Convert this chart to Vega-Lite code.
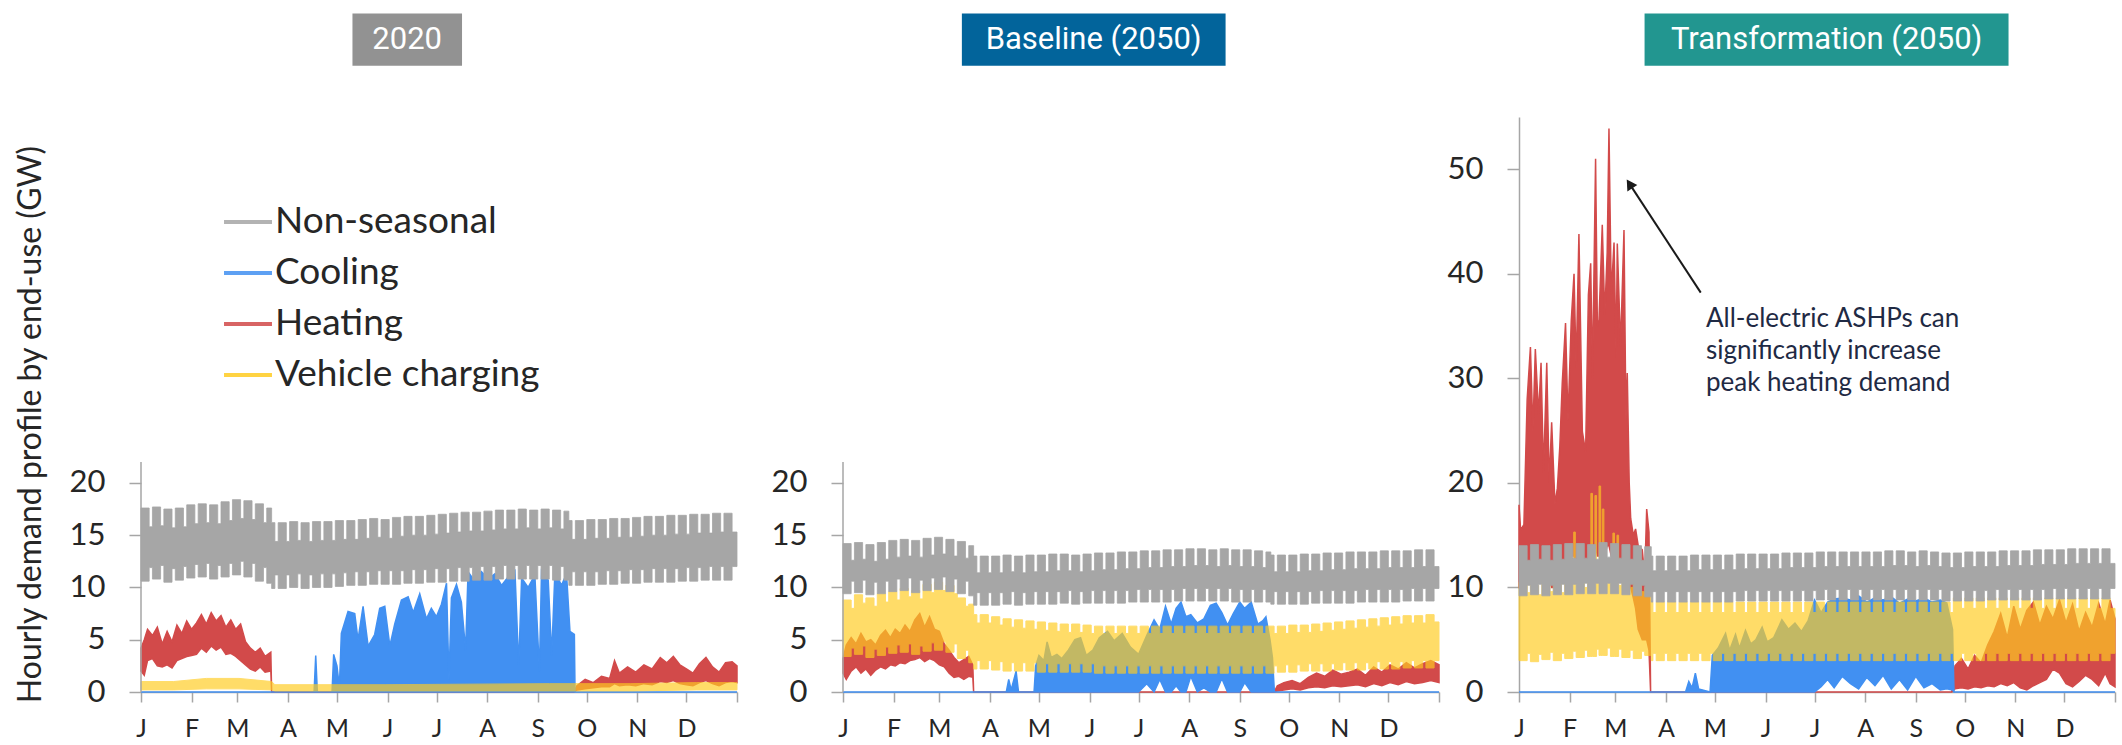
{
"$schema": "https://vega.github.io/schema/vega-lite/v6.json",
"background": "white",
"padding": {"left": 14, "top": 13, "right": 0, "bottom": 0},
"autosize": {"type": "pad"},
"spacing": 5,
"config": {
  "view": {"stroke": null},
  "font": "Lato",
  "axis": {"grid": false, "domainColor": "#A6A6A6", "tickColor": "#A6A6A6", "domainWidth": 1.5, "tickWidth": 1.5, "labelColor": "#262626", "titleColor": "#262626", "labelFont": "Lato", "titleFont": "Lato", "titleFontWeight": "normal"},
  "axisX": {"labelFontSize": 25, "tickSize": 10, "labelPadding": 14, "labelFlush": false, "labelOverlap": false},
  "axisY": {"labelFontSize": 31, "tickSize": 12, "labelPadding": 24, "titleFontSize": 32},
  "legend": {"symbolType": "stroke", "symbolSize": 2300, "symbolStrokeWidth": 4, "symbolOpacity": 0.85, "labelFontSize": 37, "labelFont": "Lato", "labelColor": "#262626", "labelLimit": 600, "rowPadding": 7, "labelOffset": 1, "padding": 0}
},
"datasets": {
"g1": [{"d":0,"l":10.6,"h":17.6},{"d":5,"l":11.9,"h":15.8},{"d":7,"l":10.8,"h":17.7},{"d":12,"l":12.1,"h":15.9},{"d":14,"l":10.5,"h":17.5},{"d":19,"l":11.8,"h":15.7},{"d":21,"l":10.7,"h":17.6},{"d":26,"l":12.0,"h":15.8},{"d":28,"l":10.9,"h":17.9},{"d":33,"l":12.2,"h":16.1},{"d":35,"l":11.0,"h":18.0},{"d":40,"l":12.3,"h":16.2},{"d":42,"l":10.8,"h":17.9},{"d":47,"l":12.1,"h":16.1},{"d":49,"l":11.0,"h":18.2},{"d":54,"l":12.3,"h":16.4},{"d":56,"l":11.2,"h":18.4},{"d":61,"l":12.5,"h":16.6},{"d":63,"l":11.0,"h":18.3},{"d":68,"l":12.3,"h":16.5},{"d":70,"l":10.6,"h":18.0},{"d":75,"l":11.9,"h":16.2},{"d":77,"l":10.4,"h":17.6},{"d":80,"l":9.9,"h":16.2},{"d":82,"l":11.2,"h":14.4},{"d":84,"l":9.9,"h":16.2},{"d":89,"l":11.2,"h":14.4},{"d":91,"l":10.0,"h":16.3},{"d":96,"l":11.3,"h":14.5},{"d":98,"l":9.9,"h":16.2},{"d":103,"l":11.2,"h":14.4},{"d":105,"l":10.0,"h":16.3},{"d":110,"l":11.3,"h":14.5},{"d":112,"l":10.0,"h":16.3},{"d":117,"l":11.3,"h":14.5},{"d":119,"l":10.1,"h":16.4},{"d":124,"l":11.4,"h":14.6},{"d":126,"l":10.2,"h":16.4},{"d":131,"l":11.5,"h":14.6},{"d":133,"l":10.2,"h":16.5},{"d":138,"l":11.5,"h":14.7},{"d":140,"l":10.3,"h":16.6},{"d":145,"l":11.6,"h":14.8},{"d":147,"l":10.3,"h":16.5},{"d":152,"l":11.6,"h":14.7},{"d":154,"l":10.3,"h":16.7},{"d":159,"l":11.6,"h":14.9},{"d":161,"l":10.4,"h":16.8},{"d":166,"l":11.7,"h":15.0},{"d":168,"l":10.4,"h":16.8},{"d":173,"l":11.7,"h":15.0},{"d":175,"l":10.5,"h":16.9},{"d":180,"l":11.8,"h":15.1},{"d":182,"l":10.5,"h":17.0},{"d":187,"l":11.8,"h":15.2},{"d":189,"l":10.6,"h":17.1},{"d":194,"l":11.9,"h":15.3},{"d":196,"l":10.6,"h":17.2},{"d":201,"l":11.9,"h":15.4},{"d":203,"l":10.7,"h":17.2},{"d":208,"l":12.0,"h":15.4},{"d":210,"l":10.7,"h":17.3},{"d":215,"l":12.0,"h":15.5},{"d":217,"l":10.8,"h":17.4},{"d":222,"l":12.1,"h":15.6},{"d":224,"l":10.8,"h":17.4},{"d":229,"l":12.1,"h":15.6},{"d":231,"l":10.8,"h":17.5},{"d":236,"l":12.1,"h":15.7},{"d":238,"l":10.8,"h":17.4},{"d":243,"l":12.1,"h":15.6},{"d":245,"l":10.8,"h":17.5},{"d":250,"l":12.1,"h":15.7},{"d":252,"l":10.7,"h":17.4},{"d":257,"l":12.0,"h":15.6},{"d":259,"l":10.7,"h":17.3},{"d":262,"l":10.2,"h":16.4},{"d":264,"l":11.5,"h":14.6},{"d":266,"l":10.2,"h":16.4},{"d":271,"l":11.5,"h":14.6},{"d":273,"l":10.2,"h":16.5},{"d":278,"l":11.5,"h":14.7},{"d":280,"l":10.3,"h":16.5},{"d":285,"l":11.6,"h":14.7},{"d":287,"l":10.3,"h":16.6},{"d":292,"l":11.6,"h":14.8},{"d":294,"l":10.4,"h":16.6},{"d":299,"l":11.7,"h":14.8},{"d":301,"l":10.4,"h":16.7},{"d":306,"l":11.7,"h":14.9},{"d":308,"l":10.5,"h":16.8},{"d":313,"l":11.8,"h":15.0},{"d":315,"l":10.5,"h":16.8},{"d":320,"l":11.8,"h":15.0},{"d":322,"l":10.5,"h":16.9},{"d":327,"l":11.8,"h":15.1},{"d":329,"l":10.6,"h":16.9},{"d":334,"l":11.9,"h":15.1},{"d":336,"l":10.6,"h":17.0},{"d":341,"l":11.9,"h":15.2},{"d":343,"l":10.7,"h":17.0},{"d":348,"l":12.0,"h":15.2},{"d":350,"l":10.7,"h":17.1},{"d":355,"l":12.0,"h":15.3},{"d":357,"l":10.7,"h":17.1},{"d":362,"l":12.0,"h":15.3},{"d":365,"l":12.0,"h":15.3}],
"g2": [{"d":0,"l":9.4,"h":14.2},{"d":5,"l":10.6,"h":12.6},{"d":7,"l":9.5,"h":14.3},{"d":12,"l":10.7,"h":12.7},{"d":14,"l":9.3,"h":14.1},{"d":19,"l":10.5,"h":12.5},{"d":21,"l":9.4,"h":14.3},{"d":26,"l":10.6,"h":12.7},{"d":28,"l":9.6,"h":14.5},{"d":33,"l":10.8,"h":12.9},{"d":35,"l":9.7,"h":14.6},{"d":40,"l":10.9,"h":13.0},{"d":42,"l":9.5,"h":14.5},{"d":47,"l":10.7,"h":12.9},{"d":49,"l":9.7,"h":14.7},{"d":54,"l":10.9,"h":13.1},{"d":56,"l":9.8,"h":14.8},{"d":61,"l":11.0,"h":13.2},{"d":63,"l":9.6,"h":14.6},{"d":68,"l":10.8,"h":13.0},{"d":70,"l":9.4,"h":14.4},{"d":75,"l":10.6,"h":12.8},{"d":77,"l":9.2,"h":14.0},{"d":80,"l":8.3,"h":13.0},{"d":82,"l":9.5,"h":11.4},{"d":84,"l":8.3,"h":13.0},{"d":89,"l":9.5,"h":11.4},{"d":91,"l":8.3,"h":13.0},{"d":96,"l":9.5,"h":11.4},{"d":98,"l":8.4,"h":13.1},{"d":103,"l":9.6,"h":11.5},{"d":105,"l":8.3,"h":13.0},{"d":110,"l":9.5,"h":11.4},{"d":112,"l":8.4,"h":13.1},{"d":117,"l":9.6,"h":11.5},{"d":119,"l":8.4,"h":13.1},{"d":124,"l":9.6,"h":11.5},{"d":126,"l":8.4,"h":13.2},{"d":131,"l":9.6,"h":11.6},{"d":133,"l":8.5,"h":13.2},{"d":138,"l":9.7,"h":11.6},{"d":140,"l":8.4,"h":13.1},{"d":145,"l":9.6,"h":11.5},{"d":147,"l":8.5,"h":13.2},{"d":152,"l":9.7,"h":11.6},{"d":154,"l":8.5,"h":13.3},{"d":159,"l":9.7,"h":11.7},{"d":161,"l":8.5,"h":13.3},{"d":166,"l":9.7,"h":11.7},{"d":168,"l":8.5,"h":13.4},{"d":173,"l":9.7,"h":11.8},{"d":175,"l":8.6,"h":13.4},{"d":180,"l":9.8,"h":11.8},{"d":182,"l":8.6,"h":13.5},{"d":187,"l":9.8,"h":11.9},{"d":189,"l":8.6,"h":13.5},{"d":194,"l":9.8,"h":11.9},{"d":196,"l":8.6,"h":13.6},{"d":201,"l":9.8,"h":12.0},{"d":203,"l":8.7,"h":13.6},{"d":208,"l":9.9,"h":12.0},{"d":210,"l":8.7,"h":13.7},{"d":215,"l":9.9,"h":12.1},{"d":217,"l":8.7,"h":13.7},{"d":222,"l":9.9,"h":12.1},{"d":224,"l":8.7,"h":13.6},{"d":229,"l":9.9,"h":12.0},{"d":231,"l":8.7,"h":13.7},{"d":236,"l":9.9,"h":12.1},{"d":238,"l":8.6,"h":13.6},{"d":243,"l":9.8,"h":12.0},{"d":245,"l":8.6,"h":13.6},{"d":250,"l":9.8,"h":12.0},{"d":252,"l":8.6,"h":13.5},{"d":257,"l":9.8,"h":11.9},{"d":259,"l":8.6,"h":13.4},{"d":262,"l":8.4,"h":13.1},{"d":264,"l":9.6,"h":11.5},{"d":266,"l":8.4,"h":13.1},{"d":271,"l":9.6,"h":11.5},{"d":273,"l":8.4,"h":13.1},{"d":278,"l":9.6,"h":11.5},{"d":280,"l":8.4,"h":13.2},{"d":285,"l":9.6,"h":11.6},{"d":287,"l":8.5,"h":13.2},{"d":292,"l":9.7,"h":11.6},{"d":294,"l":8.5,"h":13.3},{"d":299,"l":9.7,"h":11.7},{"d":301,"l":8.5,"h":13.3},{"d":306,"l":9.7,"h":11.7},{"d":308,"l":8.5,"h":13.4},{"d":313,"l":9.7,"h":11.8},{"d":315,"l":8.6,"h":13.4},{"d":320,"l":9.8,"h":11.8},{"d":322,"l":8.6,"h":13.4},{"d":327,"l":9.8,"h":11.8},{"d":329,"l":8.6,"h":13.5},{"d":334,"l":9.8,"h":11.9},{"d":336,"l":8.6,"h":13.5},{"d":341,"l":9.8,"h":11.9},{"d":343,"l":8.7,"h":13.5},{"d":348,"l":9.9,"h":11.9},{"d":350,"l":8.7,"h":13.6},{"d":355,"l":9.9,"h":12.0},{"d":357,"l":8.7,"h":13.6},{"d":362,"l":9.9,"h":12.0},{"d":365,"l":9.9,"h":12.0}],
"g3": [{"d":0,"l":9.2,"h":14.0},{"d":5,"l":10.2,"h":12.6},{"d":7,"l":9.3,"h":14.1},{"d":12,"l":10.3,"h":12.7},{"d":14,"l":9.2,"h":14.0},{"d":19,"l":10.2,"h":12.6},{"d":21,"l":9.3,"h":14.1},{"d":26,"l":10.3,"h":12.7},{"d":28,"l":9.3,"h":14.2},{"d":33,"l":10.3,"h":12.8},{"d":35,"l":9.4,"h":14.2},{"d":40,"l":10.4,"h":12.8},{"d":42,"l":9.4,"h":14.1},{"d":47,"l":10.4,"h":12.7},{"d":49,"l":9.4,"h":14.3},{"d":54,"l":10.4,"h":12.9},{"d":56,"l":9.4,"h":14.2},{"d":61,"l":10.4,"h":12.8},{"d":63,"l":9.3,"h":14.1},{"d":68,"l":10.3,"h":12.7},{"d":70,"l":9.2,"h":14.0},{"d":75,"l":10.2,"h":12.6},{"d":77,"l":9.1,"h":13.9},{"d":81,"l":8.6,"h":13.0},{"d":82,"l":9.6,"h":11.6},{"d":84,"l":8.6,"h":13.0},{"d":89,"l":9.6,"h":11.6},{"d":91,"l":8.6,"h":13.0},{"d":96,"l":9.6,"h":11.6},{"d":98,"l":8.6,"h":13.0},{"d":103,"l":9.6,"h":11.6},{"d":105,"l":8.6,"h":13.1},{"d":110,"l":9.6,"h":11.7},{"d":112,"l":8.6,"h":13.1},{"d":117,"l":9.6,"h":11.7},{"d":119,"l":8.6,"h":13.1},{"d":124,"l":9.6,"h":11.7},{"d":126,"l":8.6,"h":13.1},{"d":131,"l":9.6,"h":11.7},{"d":133,"l":8.7,"h":13.2},{"d":138,"l":9.7,"h":11.8},{"d":140,"l":8.7,"h":13.2},{"d":145,"l":9.7,"h":11.8},{"d":147,"l":8.7,"h":13.2},{"d":152,"l":9.7,"h":11.8},{"d":154,"l":8.7,"h":13.2},{"d":159,"l":9.7,"h":11.8},{"d":161,"l":8.7,"h":13.3},{"d":166,"l":9.7,"h":11.9},{"d":168,"l":8.7,"h":13.3},{"d":173,"l":9.7,"h":11.9},{"d":175,"l":8.7,"h":13.3},{"d":180,"l":9.7,"h":11.9},{"d":182,"l":8.8,"h":13.4},{"d":187,"l":9.8,"h":12.0},{"d":189,"l":8.8,"h":13.4},{"d":194,"l":9.8,"h":12.0},{"d":196,"l":8.8,"h":13.4},{"d":201,"l":9.8,"h":12.0},{"d":203,"l":8.8,"h":13.4},{"d":208,"l":9.8,"h":12.0},{"d":210,"l":8.8,"h":13.4},{"d":215,"l":9.8,"h":12.0},{"d":217,"l":8.8,"h":13.4},{"d":222,"l":9.8,"h":12.0},{"d":224,"l":8.8,"h":13.5},{"d":229,"l":9.8,"h":12.1},{"d":231,"l":8.8,"h":13.5},{"d":236,"l":9.8,"h":12.1},{"d":238,"l":8.8,"h":13.4},{"d":243,"l":9.8,"h":12.0},{"d":245,"l":8.8,"h":13.5},{"d":250,"l":9.8,"h":12.1},{"d":252,"l":8.8,"h":13.4},{"d":257,"l":9.8,"h":12.0},{"d":259,"l":8.7,"h":13.3},{"d":264,"l":9.7,"h":11.9},{"d":266,"l":8.7,"h":13.3},{"d":271,"l":9.7,"h":11.9},{"d":273,"l":8.7,"h":13.4},{"d":278,"l":9.7,"h":12.0},{"d":280,"l":8.7,"h":13.4},{"d":285,"l":9.7,"h":12.0},{"d":287,"l":8.8,"h":13.4},{"d":292,"l":9.8,"h":12.0},{"d":294,"l":8.8,"h":13.5},{"d":299,"l":9.8,"h":12.1},{"d":301,"l":8.8,"h":13.5},{"d":306,"l":9.8,"h":12.1},{"d":308,"l":8.8,"h":13.5},{"d":313,"l":9.8,"h":12.1},{"d":315,"l":8.8,"h":13.6},{"d":320,"l":9.8,"h":12.2},{"d":322,"l":8.9,"h":13.6},{"d":327,"l":9.9,"h":12.2},{"d":329,"l":8.9,"h":13.6},{"d":334,"l":9.9,"h":12.2},{"d":336,"l":8.9,"h":13.7},{"d":341,"l":9.9,"h":12.3},{"d":343,"l":8.9,"h":13.7},{"d":348,"l":9.9,"h":12.3},{"d":350,"l":8.9,"h":13.7},{"d":355,"l":9.9,"h":12.3},{"d":357,"l":8.9,"h":13.7},{"d":362,"l":9.9,"h":12.3},{"d":365,"l":9.9,"h":12.3}],
"v1": [{"d":0,"l":0.2,"h":1.0},{"d":20,"l":0.2,"h":1.0},{"d":40,"l":0.3,"h":1.3},{"d":60,"l":0.3,"h":1.3},{"d":80,"l":0.2,"h":1.0},{"d":82,"l":0.1,"h":0.7},{"d":150,"l":0.1,"h":0.7},{"d":250,"l":0.1,"h":0.8},{"d":300,"l":0.1,"h":0.8},{"d":340,"l":0.2,"h":0.9},{"d":365,"l":0.2,"h":0.9}],
"v2": [{"d":0,"l":3.4,"h":8.8},{"d":5,"l":4.2,"h":8.0},{"d":7,"l":3.6,"h":9.3},{"d":12,"l":4.4,"h":8.5},{"d":14,"l":3.3,"h":9.0},{"d":19,"l":4.1,"h":8.2},{"d":21,"l":3.5,"h":9.4},{"d":26,"l":4.3,"h":8.6},{"d":28,"l":3.7,"h":9.6},{"d":33,"l":4.5,"h":8.8},{"d":35,"l":3.8,"h":9.9},{"d":40,"l":4.6,"h":9.1},{"d":42,"l":3.6,"h":9.7},{"d":47,"l":4.4,"h":8.9},{"d":49,"l":3.9,"h":10.3},{"d":54,"l":4.7,"h":9.5},{"d":56,"l":4.0,"h":10.5},{"d":61,"l":4.8,"h":9.7},{"d":63,"l":3.8,"h":10.2},{"d":68,"l":4.6,"h":9.4},{"d":70,"l":3.2,"h":9.0},{"d":75,"l":4.0,"h":8.2},{"d":77,"l":2.8,"h":8.4},{"d":80,"l":2.2,"h":7.4},{"d":82,"l":3.0,"h":6.6},{"d":84,"l":2.2,"h":7.4},{"d":89,"l":3.0,"h":6.6},{"d":91,"l":2.1,"h":7.2},{"d":96,"l":2.9,"h":6.4},{"d":98,"l":2.0,"h":7.0},{"d":103,"l":2.8,"h":6.2},{"d":105,"l":2.0,"h":6.9},{"d":110,"l":2.8,"h":6.1},{"d":112,"l":2.0,"h":6.8},{"d":117,"l":2.8,"h":6.0},{"d":119,"l":1.9,"h":6.7},{"d":124,"l":2.7,"h":5.9},{"d":126,"l":1.9,"h":6.6},{"d":131,"l":2.7,"h":5.8},{"d":133,"l":1.9,"h":6.5},{"d":138,"l":2.7,"h":5.7},{"d":140,"l":1.9,"h":6.5},{"d":145,"l":2.7,"h":5.7},{"d":147,"l":1.9,"h":6.4},{"d":152,"l":2.7,"h":5.6},{"d":154,"l":1.8,"h":6.3},{"d":159,"l":2.5,"h":5.6},{"d":161,"l":1.8,"h":6.3},{"d":166,"l":2.5,"h":5.6},{"d":168,"l":1.8,"h":6.3},{"d":173,"l":2.5,"h":5.6},{"d":175,"l":1.8,"h":6.3},{"d":180,"l":2.5,"h":5.6},{"d":182,"l":1.8,"h":6.3},{"d":187,"l":2.5,"h":5.6},{"d":189,"l":1.8,"h":6.3},{"d":194,"l":2.5,"h":5.6},{"d":196,"l":1.8,"h":6.3},{"d":201,"l":2.5,"h":5.6},{"d":203,"l":1.8,"h":6.3},{"d":208,"l":2.5,"h":5.6},{"d":210,"l":1.8,"h":6.3},{"d":215,"l":2.5,"h":5.6},{"d":217,"l":1.8,"h":6.3},{"d":222,"l":2.5,"h":5.6},{"d":224,"l":1.8,"h":6.3},{"d":229,"l":2.5,"h":5.6},{"d":231,"l":1.8,"h":6.3},{"d":236,"l":2.5,"h":5.6},{"d":238,"l":1.8,"h":6.3},{"d":243,"l":2.5,"h":5.6},{"d":245,"l":1.8,"h":6.3},{"d":250,"l":2.5,"h":5.6},{"d":252,"l":1.8,"h":6.3},{"d":257,"l":2.5,"h":5.6},{"d":259,"l":1.8,"h":6.3},{"d":264,"l":2.5,"h":5.6},{"d":266,"l":1.9,"h":6.3},{"d":271,"l":2.6,"h":5.6},{"d":273,"l":1.9,"h":6.4},{"d":278,"l":2.6,"h":5.7},{"d":280,"l":2.0,"h":6.4},{"d":285,"l":2.7,"h":5.7},{"d":287,"l":2.0,"h":6.5},{"d":292,"l":2.7,"h":5.8},{"d":294,"l":2.0,"h":6.6},{"d":299,"l":2.7,"h":5.9},{"d":301,"l":2.1,"h":6.7},{"d":306,"l":2.8,"h":6.0},{"d":308,"l":2.1,"h":6.8},{"d":313,"l":2.8,"h":6.1},{"d":315,"l":2.1,"h":6.9},{"d":320,"l":2.8,"h":6.2},{"d":322,"l":2.2,"h":7.0},{"d":327,"l":2.9,"h":6.3},{"d":329,"l":2.2,"h":7.1},{"d":334,"l":2.9,"h":6.4},{"d":336,"l":2.2,"h":7.2},{"d":341,"l":2.9,"h":6.5},{"d":343,"l":2.3,"h":7.3},{"d":348,"l":3.0,"h":6.6},{"d":350,"l":2.3,"h":7.3},{"d":355,"l":3.0,"h":6.6},{"d":357,"l":2.3,"h":7.4},{"d":362,"l":3.0,"h":6.7},{"d":365,"l":3.0,"h":6.7}],
"v3": [{"d":0,"l":3.0,"h":10.5},{"d":5,"l":3.7,"h":9.5},{"d":7,"l":2.9,"h":10.2},{"d":12,"l":3.6,"h":9.3},{"d":14,"l":3.1,"h":10.6},{"d":19,"l":3.8,"h":9.6},{"d":21,"l":3.0,"h":10.4},{"d":26,"l":3.7,"h":9.5},{"d":28,"l":3.2,"h":10.8},{"d":33,"l":3.9,"h":9.8},{"d":33.5,"l":3.9,"h":15.3},{"d":34.5,"l":3.9,"h":9.8},{"d":35,"l":3.3,"h":11.0},{"d":40,"l":4.0,"h":10.0},{"d":42,"l":3.4,"h":11.2},{"d":44,"l":3.4,"h":19.0},{"d":45,"l":3.4,"h":12.0},{"d":46.5,"l":3.4,"h":18.8},{"d":47.5,"l":4.1,"h":10.4},{"d":49,"l":3.5,"h":19.7},{"d":50,"l":3.5,"h":13.0},{"d":51,"l":3.5,"h":17.5},{"d":52,"l":3.5,"h":11.6},{"d":54,"l":4.2,"h":10.4},{"d":56,"l":3.4,"h":11.4},{"d":57.5,"l":3.4,"h":15.2},{"d":58.5,"l":3.4,"h":11.4},{"d":60,"l":3.4,"h":15.0},{"d":61,"l":4.1,"h":10.2},{"d":63,"l":3.3,"h":11.0},{"d":68,"l":4.0,"h":10.0},{"d":70,"l":3.2,"h":10.6},{"d":75,"l":3.9,"h":9.6},{"d":77,"l":3.5,"h":10.0},{"d":81,"l":3.0,"h":8.6},{"d":82,"l":3.7,"h":7.6},{"d":84,"l":3.0,"h":8.6},{"d":89,"l":3.7,"h":7.6},{"d":91,"l":3.0,"h":8.6},{"d":96,"l":3.7,"h":7.6},{"d":98,"l":3.0,"h":8.6},{"d":103,"l":3.7,"h":7.6},{"d":105,"l":3.0,"h":8.6},{"d":110,"l":3.7,"h":7.6},{"d":112,"l":3.0,"h":8.6},{"d":117,"l":3.7,"h":7.6},{"d":119,"l":3.0,"h":8.6},{"d":124,"l":3.7,"h":7.6},{"d":126,"l":3.0,"h":8.6},{"d":131,"l":3.7,"h":7.6},{"d":133,"l":3.0,"h":8.6},{"d":138,"l":3.7,"h":7.6},{"d":140,"l":3.0,"h":8.6},{"d":145,"l":3.7,"h":7.6},{"d":147,"l":3.0,"h":8.6},{"d":152,"l":3.7,"h":7.6},{"d":154,"l":3.0,"h":8.6},{"d":159,"l":3.7,"h":7.6},{"d":161,"l":3.0,"h":8.6},{"d":166,"l":3.7,"h":7.6},{"d":168,"l":3.0,"h":8.6},{"d":173,"l":3.7,"h":7.6},{"d":175,"l":3.0,"h":8.6},{"d":180,"l":3.7,"h":7.6},{"d":182,"l":3.0,"h":8.6},{"d":187,"l":3.7,"h":7.6},{"d":189,"l":3.0,"h":8.6},{"d":194,"l":3.7,"h":7.6},{"d":196,"l":3.0,"h":8.6},{"d":201,"l":3.7,"h":7.6},{"d":203,"l":3.0,"h":8.6},{"d":208,"l":3.7,"h":7.6},{"d":210,"l":3.0,"h":8.6},{"d":215,"l":3.7,"h":7.6},{"d":217,"l":3.0,"h":8.6},{"d":222,"l":3.7,"h":7.6},{"d":224,"l":3.0,"h":8.6},{"d":229,"l":3.7,"h":7.6},{"d":231,"l":3.0,"h":8.6},{"d":236,"l":3.7,"h":7.6},{"d":238,"l":3.0,"h":8.6},{"d":243,"l":3.7,"h":7.6},{"d":245,"l":3.0,"h":8.6},{"d":250,"l":3.7,"h":7.6},{"d":252,"l":3.0,"h":8.6},{"d":257,"l":3.7,"h":7.6},{"d":259,"l":3.0,"h":8.6},{"d":264,"l":3.7,"h":7.6},{"d":266,"l":3.0,"h":9.0},{"d":271,"l":3.7,"h":8.0},{"d":273,"l":3.0,"h":9.0},{"d":278,"l":3.7,"h":8.0},{"d":280,"l":3.0,"h":9.0},{"d":285,"l":3.7,"h":8.0},{"d":287,"l":3.0,"h":9.0},{"d":292,"l":3.7,"h":8.0},{"d":294,"l":3.0,"h":9.0},{"d":299,"l":3.7,"h":8.0},{"d":301,"l":3.0,"h":9.0},{"d":306,"l":3.7,"h":8.0},{"d":308,"l":3.0,"h":9.0},{"d":313,"l":3.7,"h":8.0},{"d":315,"l":3.0,"h":9.0},{"d":320,"l":3.7,"h":8.0},{"d":322,"l":3.0,"h":9.0},{"d":327,"l":3.7,"h":8.0},{"d":329,"l":3.0,"h":9.0},{"d":334,"l":3.7,"h":8.0},{"d":336,"l":3.0,"h":9.0},{"d":341,"l":3.7,"h":8.0},{"d":343,"l":3.0,"h":9.0},{"d":348,"l":3.7,"h":8.0},{"d":350,"l":3.0,"h":9.0},{"d":355,"l":3.7,"h":8.0},{"d":357,"l":3.0,"h":9.0},{"d":362,"l":3.7,"h":8.0},{"d":365,"l":3.7,"h":8.0}],
"h1": [{"d":0,"l":2.0,"h":4.2},{"d":2,"l":1.6,"h":5.0},{"d":4,"l":3.0,"h":6.0},{"d":7,"l":3.2,"h":5.4},{"d":10,"l":2.5,"h":6.2},{"d":13,"l":2.4,"h":4.6},{"d":16,"l":2.6,"h":5.8},{"d":19,"l":2.3,"h":4.8},{"d":22,"l":3.0,"h":6.4},{"d":25,"l":3.2,"h":5.6},{"d":28,"l":3.4,"h":6.8},{"d":31,"l":3.5,"h":6.0},{"d":34,"l":3.6,"h":6.6},{"d":37,"l":4.2,"h":7.4},{"d":40,"l":3.8,"h":6.5},{"d":43,"l":4.4,"h":7.6},{"d":46,"l":4.0,"h":6.8},{"d":49,"l":4.3,"h":7.3},{"d":52,"l":3.6,"h":6.2},{"d":55,"l":3.7,"h":6.9},{"d":58,"l":3.4,"h":6.0},{"d":61,"l":3.0,"h":6.5},{"d":64,"l":2.6,"h":4.8},{"d":67,"l":2.2,"h":4.2},{"d":70,"l":2.0,"h":3.8},{"d":73,"l":2.4,"h":4.2},{"d":76,"l":1.9,"h":3.4},{"d":79.5,"l":2.0,"h":3.8},{"d":80,"l":0,"h":0},{"d":265,"l":0,"h":0},{"d":267,"l":0.2,"h":0.6},{"d":272,"l":0.3,"h":1.2},{"d":277,"l":0.4,"h":0.9},{"d":282,"l":0.5,"h":1.5},{"d":287,"l":0.5,"h":1.3},{"d":290,"l":0.8,"h":3.0},{"d":293,"l":0.6,"h":1.8},{"d":298,"l":0.7,"h":2.4},{"d":303,"l":0.6,"h":1.9},{"d":308,"l":0.8,"h":2.6},{"d":313,"l":0.7,"h":2.2},{"d":318,"l":1.0,"h":3.3},{"d":322,"l":0.9,"h":2.8},{"d":326,"l":1.1,"h":3.4},{"d":330,"l":0.8,"h":2.6},{"d":334,"l":0.7,"h":2.2},{"d":338,"l":0.6,"h":1.8},{"d":342,"l":0.9,"h":2.7},{"d":346,"l":1.1,"h":3.3},{"d":350,"l":0.8,"h":2.4},{"d":354,"l":0.6,"h":1.9},{"d":358,"l":0.9,"h":2.8},{"d":362,"l":1.0,"h":2.9},{"d":365,"l":0.9,"h":2.5}],
"h2": [{"d":0,"l":1.8,"h":3.2},{"d":2,"l":1.2,"h":4.5},{"d":5,"l":2.0,"h":5.2},{"d":8,"l":2.4,"h":4.6},{"d":11,"l":1.8,"h":5.6},{"d":14,"l":2.2,"h":4.8},{"d":17,"l":1.6,"h":5.0},{"d":20,"l":2.1,"h":4.5},{"d":23,"l":2.4,"h":5.4},{"d":26,"l":2.2,"h":5.9},{"d":29,"l":2.6,"h":5.2},{"d":32,"l":2.5,"h":6.0},{"d":35,"l":2.8,"h":5.6},{"d":38,"l":2.7,"h":6.4},{"d":41,"l":3.0,"h":5.8},{"d":44,"l":3.1,"h":6.9},{"d":47,"l":3.3,"h":7.5},{"d":50,"l":2.9,"h":6.2},{"d":53,"l":3.2,"h":7.2},{"d":56,"l":3.0,"h":6.0},{"d":59,"l":2.6,"h":5.8},{"d":62,"l":2.4,"h":4.6},{"d":65,"l":1.8,"h":4.0},{"d":68,"l":1.4,"h":3.3},{"d":71,"l":1.5,"h":2.8},{"d":74,"l":1.2,"h":3.1},{"d":77,"l":1.5,"h":3.4},{"d":79.5,"l":1.4,"h":2.6},{"d":80,"l":0,"h":0},{"d":264,"l":0,"h":0},{"d":266,"l":0.1,"h":0.6},{"d":270,"l":0.2,"h":0.9},{"d":275,"l":0.3,"h":1.1},{"d":280,"l":0.2,"h":0.8},{"d":285,"l":0.4,"h":1.4},{"d":290,"l":0.5,"h":1.8},{"d":295,"l":0.4,"h":1.5},{"d":300,"l":0.6,"h":2.1},{"d":305,"l":0.5,"h":1.7},{"d":310,"l":0.6,"h":1.9},{"d":315,"l":0.7,"h":2.2},{"d":320,"l":0.5,"h":1.6},{"d":325,"l":0.8,"h":2.4},{"d":330,"l":0.6,"h":1.9},{"d":335,"l":0.9,"h":2.6},{"d":340,"l":0.7,"h":2.2},{"d":345,"l":1.0,"h":2.8},{"d":350,"l":0.8,"h":2.3},{"d":355,"l":0.9,"h":2.7},{"d":360,"l":1.1,"h":3.0},{"d":365,"l":0.9,"h":2.6}],
"h3": [{"d":0,"l":10,"h":17.9},{"d":1,"l":10,"h":15.5},{"d":3,"l":10,"h":16.0},{"d":5,"l":11,"h":28},{"d":7,"l":11,"h":33.0},{"d":8.5,"l":12,"h":25},{"d":10,"l":12,"h":32.8},{"d":12,"l":11,"h":26.5},{"d":13.5,"l":12,"h":31.5},{"d":15,"l":11,"h":21},{"d":17,"l":12,"h":31.5},{"d":18.5,"l":11,"h":20},{"d":20,"l":10,"h":25.8},{"d":22,"l":10,"h":18},{"d":23.5,"l":10,"h":19.5},{"d":25,"l":11,"h":23.5},{"d":26.5,"l":12,"h":29.6},{"d":28.5,"l":12,"h":35.3},{"d":30,"l":13,"h":26},{"d":32,"l":13,"h":35.5},{"d":33.7,"l":13,"h":40.0},{"d":35,"l":12,"h":31},{"d":36.7,"l":13,"h":43.8},{"d":38.8,"l":12,"h":24.9},{"d":40.8,"l":12,"h":23.0},{"d":42.5,"l":13,"h":38},{"d":43.9,"l":13,"h":41},{"d":45,"l":13,"h":30},{"d":46.9,"l":14,"h":51.0},{"d":48,"l":13,"h":35},{"d":49,"l":13,"h":35.6},{"d":51,"l":14,"h":44.7},{"d":52.5,"l":13,"h":36},{"d":54,"l":14,"h":42},{"d":55.1,"l":14,"h":53.9},{"d":56.5,"l":13,"h":38},{"d":58.2,"l":13,"h":43.0},{"d":59.5,"l":12,"h":32},{"d":60.2,"l":12,"h":42.9},{"d":62.2,"l":12,"h":33.0},{"d":64.3,"l":12,"h":44.2},{"d":65.5,"l":11,"h":26},{"d":66.3,"l":11,"h":30.5},{"d":67.5,"l":10,"h":20},{"d":68.4,"l":10,"h":16.6},{"d":70,"l":9,"h":15},{"d":71.4,"l":8,"h":15.6},{"d":73,"l":6,"h":14.0},{"d":75.5,"l":5,"h":13.6},{"d":77,"l":5,"h":11},{"d":78.2,"l":5,"h":17.5},{"d":79.6,"l":4,"h":15.3},{"d":80.6,"l":0,"h":0},{"d":265,"l":0,"h":0},{"d":267,"l":0.3,"h":2.5},{"d":271,"l":0.4,"h":3.2},{"d":275,"l":0.3,"h":2.2},{"d":279,"l":0.5,"h":3.5},{"d":283,"l":0.4,"h":2.8},{"d":287,"l":0.6,"h":4.5},{"d":291,"l":0.5,"h":5.8},{"d":295,"l":0.8,"h":7.5},{"d":299,"l":0.6,"h":5.2},{"d":303,"l":0.9,"h":8.2},{"d":307,"l":0.4,"h":6.0},{"d":311,"l":0.2,"h":7.8},{"d":315,"l":0.6,"h":8.6},{"d":319,"l":0.9,"h":6.4},{"d":323,"l":1.2,"h":8.2},{"d":327,"l":2.2,"h":7.0},{"d":331,"l":1.8,"h":8.8},{"d":335,"l":0.8,"h":6.6},{"d":339,"l":0.5,"h":8.4},{"d":343,"l":1.0,"h":5.8},{"d":347,"l":1.6,"h":7.6},{"d":351,"l":1.2,"h":6.2},{"d":355,"l":0.6,"h":8.5},{"d":359,"l":1.8,"h":6.5},{"d":362,"l":0.8,"h":8.8},{"d":365,"l":0.5,"h":7.0}],
"c1": [{"d":0,"l":0,"h":0},{"d":106,"l":0,"h":0},{"d":107,"l":0,"h":3.5},{"d":108,"l":0,"h":0},{"d":117,"l":0,"h":0},{"d":118,"l":0,"h":3.6},{"d":120,"l":0,"h":2.5},{"d":121.5,"l":0,"h":0.5},{"d":122.7,"l":0,"h":5.6},{"d":126.8,"l":0,"h":7.7},{"d":130.9,"l":0,"h":7.5},{"d":132.9,"l":0,"h":5.0},{"d":136,"l":0,"h":8.2},{"d":139.1,"l":0,"h":4.4},{"d":143.1,"l":0,"h":5.5},{"d":146.2,"l":0,"h":8.0},{"d":149.3,"l":0,"h":8.2},{"d":152.4,"l":0,"h":4.4},{"d":155.4,"l":0,"h":6.5},{"d":159.5,"l":0,"h":8.8},{"d":163.6,"l":0,"h":9.1},{"d":166.7,"l":0,"h":7.6},{"d":170.7,"l":0,"h":9.4},{"d":174.8,"l":0,"h":7.0},{"d":177.8,"l":0,"h":8.0},{"d":180.9,"l":0,"h":7.2},{"d":184,"l":0,"h":8.4},{"d":187.1,"l":0,"h":10.4},{"d":188.6,"l":0,"h":1.2},{"d":190.1,"l":0,"h":9.0},{"d":193.2,"l":0,"h":10.3},{"d":196.2,"l":0,"h":8.6},{"d":198.8,"l":0,"h":4.0},{"d":200.3,"l":0,"h":11.5},{"d":204.4,"l":0,"h":10.6},{"d":208.5,"l":0,"h":11.5},{"d":212.6,"l":0,"h":10.8},{"d":216.7,"l":0,"h":11.3},{"d":220.8,"l":0,"h":10.2},{"d":224.8,"l":0,"h":11.0},{"d":229,"l":0,"h":11.6},{"d":231.3,"l":0,"h":2.5},{"d":233.1,"l":0,"h":10.9},{"d":237.1,"l":0,"h":10.0},{"d":241.2,"l":0,"h":11.2},{"d":244,"l":0,"h":2.0},{"d":245.3,"l":0,"h":11.6},{"d":249.4,"l":0,"h":10.7},{"d":251.5,"l":0,"h":3.5},{"d":253.5,"l":0,"h":11.5},{"d":257.5,"l":0,"h":10.2},{"d":260.6,"l":0,"h":11.3},{"d":262.7,"l":0,"h":5.8},{"d":265.4,"l":0,"h":5.5},{"d":265.8,"l":0,"h":0},{"d":365,"l":0,"h":0}],
"c2": [{"d":0,"l":0,"h":0},{"d":100,"l":0,"h":0},{"d":101.5,"l":0,"h":1.2},{"d":103,"l":0,"h":0.2},{"d":106,"l":0,"h":2.0},{"d":107.5,"l":0,"h":0},{"d":117,"l":0,"h":0},{"d":118,"l":0,"h":2.5},{"d":120,"l":0,"h":3.5},{"d":123,"l":0,"h":3.0},{"d":125,"l":0,"h":4.8},{"d":127.5,"l":0,"h":3.3},{"d":131,"l":0,"h":3.6},{"d":134,"l":0,"h":3.2},{"d":138,"l":0,"h":4.0},{"d":142,"l":0,"h":5.0},{"d":145.5,"l":0,"h":5.2},{"d":149,"l":0,"h":3.5},{"d":153,"l":0,"h":4.0},{"d":157,"l":0,"h":5.2},{"d":162,"l":0,"h":5.8},{"d":166,"l":0,"h":4.9},{"d":171,"l":0,"h":5.6},{"d":176,"l":0,"h":4.3},{"d":181,"l":0,"h":3.6},{"d":186,"l":0.8,"h":5.4},{"d":190.5,"l":0,"h":6.9},{"d":194,"l":1.2,"h":6.0},{"d":197.5,"l":0,"h":8.2},{"d":201,"l":0,"h":6.5},{"d":204,"l":0.6,"h":8.0},{"d":207,"l":0,"h":8.6},{"d":210,"l":0,"h":7.2},{"d":213,"l":1.5,"h":7.4},{"d":217,"l":0,"h":6.6},{"d":221,"l":0.4,"h":7.0},{"d":225,"l":0,"h":8.3},{"d":228.5,"l":0,"h":8.5},{"d":232,"l":1.3,"h":7.6},{"d":235.5,"l":0,"h":6.4},{"d":239,"l":0,"h":7.5},{"d":243,"l":0,"h":8.6},{"d":246,"l":0.9,"h":8.0},{"d":250,"l":0,"h":8.6},{"d":254,"l":0,"h":6.5},{"d":257,"l":0,"h":6.8},{"d":259,"l":0,"h":7.2},{"d":261.5,"l":0,"h":5.0},{"d":263,"l":0,"h":3.3},{"d":264.2,"l":0,"h":0},{"d":365,"l":0,"h":0}],
"c3": [{"d":0,"l":0,"h":0},{"d":102,"l":0,"h":0},{"d":104,"l":0,"h":1.0},{"d":106,"l":0,"h":0.4},{"d":108,"l":0,"h":1.8},{"d":110,"l":0,"h":0.3},{"d":117,"l":0,"h":0},{"d":118.4,"l":0,"h":3.5},{"d":122,"l":0,"h":4.2},{"d":126.5,"l":0,"h":5.6},{"d":129,"l":0,"h":4.0},{"d":132.6,"l":0,"h":5.5},{"d":135,"l":0,"h":4.2},{"d":138.7,"l":0,"h":5.9},{"d":142,"l":0,"h":4.6},{"d":145,"l":0,"h":5.0},{"d":148.9,"l":0,"h":6.2},{"d":152,"l":0,"h":4.8},{"d":156,"l":0,"h":5.2},{"d":161,"l":0,"h":6.9},{"d":165,"l":0,"h":6.0},{"d":169,"l":0,"h":6.6},{"d":173,"l":0,"h":5.8},{"d":177,"l":0,"h":6.8},{"d":181,"l":0,"h":8.8},{"d":185,"l":0.5,"h":7.6},{"d":189,"l":1.2,"h":8.6},{"d":193,"l":0.4,"h":8.9},{"d":198,"l":1.5,"h":9.0},{"d":203,"l":0.8,"h":8.8},{"d":208,"l":0.3,"h":9.2},{"d":213,"l":1.4,"h":8.6},{"d":218,"l":0.6,"h":9.0},{"d":223,"l":1.6,"h":8.8},{"d":228,"l":0.3,"h":9.1},{"d":233,"l":1.2,"h":8.5},{"d":238,"l":0.2,"h":8.9},{"d":243,"l":1.5,"h":8.7},{"d":248,"l":0.4,"h":9.0},{"d":253,"l":0.8,"h":8.6},{"d":258,"l":0.2,"h":8.8},{"d":262,"l":0.3,"h":8.5},{"d":265.5,"l":0.2,"h":6.0},{"d":266.4,"l":0,"h":0},{"d":365,"l":0,"h":0}]
},
"hconcat": [
{
"width": 596, "height": 575,
"layer": [
{"data": {"name": "h1"}, "mark": {"type": "area", "fill": "#D24A4A", "strokeWidth": 1.5, "interpolate": "linear"},
 "encoding": {
  "x": {"field": "d", "type": "quantitative", "scale": {"domain": [0, 365], "nice": false, "zero": false}, "axis": {"values": [0,31,59,90,120,151,181,212,243,273,304,334,365], "labelExpr": "['J','F','M','A','M','J','J','A','S','O','N','D',''][indexof([0,31,59,90,120,151,181,212,243,273,304,334,365], datum.value)]", "title": null}},
  "y": {"field": "l", "type": "quantitative", "scale": {"domain": [0, 55], "nice": false, "zero": false}, "axis": {"values": [0,5,10,15,20], "domain": false, "title": "Hourly demand profile by end-use (GW)", "titlePadding": 22, "titleY": 307}},
  "y2": {"field": "h"},
  "stroke": {"datum": "Heating", "type": "nominal", "scale": {"domain": ["Non-seasonal","Cooling","Heating","Vehicle charging"], "range": ["#A6A6A6","#4190F2","#D24A4A","#FFCC22"]}, "legend": {"title": null, "orient": "none", "legendX": 81, "legendY": 79}}
 }},
{"data": {"name": "c1"}, "mark": {"type": "area", "fill": "#4190F2", "strokeWidth": 1.5, "interpolate": "linear"},
 "encoding": {"x": {"field": "d", "type": "quantitative"}, "y": {"field": "l", "type": "quantitative"}, "y2": {"field": "h"}, "stroke": {"datum": "Cooling", "type": "nominal"}}},
{"data": {"name": "v1"}, "mark": {"type": "area", "fill": "#FFCC22", "opacity": 0.68, "strokeWidth": 1, "interpolate": "linear"},
 "encoding": {"x": {"field": "d", "type": "quantitative"}, "y": {"field": "l", "type": "quantitative"}, "y2": {"field": "h"}, "stroke": {"datum": "Vehicle charging", "type": "nominal"}}},
{"data": {"name": "g1"}, "mark": {"type": "area", "fill": "#A6A6A6", "strokeWidth": 0.8, "interpolate": "step-after"},
 "encoding": {"x": {"field": "d", "type": "quantitative"}, "y": {"field": "l", "type": "quantitative"}, "y2": {"field": "h"}, "stroke": {"datum": "Non-seasonal", "type": "nominal"}}},
{"data": {"values": [{}]}, "mark": {"type": "rule", "color": "#A6A6A6", "strokeWidth": 1.5},
 "encoding": {"x": {"datum": 0}, "y": {"datum": 0}, "y2": {"datum": 22}}},
{"data": {"values": [{}]}, "mark": {"type": "rect", "color": "#929292"},
 "encoding": {"x": {"datum": 129.5}, "x2": {"datum": 196.6}, "y": {"datum": 64.9}, "y2": {"datum": 59.9}}},
{"data": {"values": [{}]}, "mark": {"type": "text", "color": "white", "font": "Roboto", "fontSize": 31, "baseline": "middle", "align": "center", "text": "2020"},
 "encoding": {"x": {"datum": 163}, "y": {"datum": 62.4}}}
]
},
{
"width": 596, "height": 575,
"layer": [
{"data": {"name": "h2"}, "mark": {"type": "area", "fill": "#D24A4A", "strokeWidth": 1.5, "interpolate": "linear"},
 "encoding": {
  "x": {"field": "d", "type": "quantitative", "scale": {"domain": [0, 365], "nice": false, "zero": false}, "axis": {"values": [0,31,59,90,120,151,181,212,243,273,304,334,365], "labelExpr": "['J','F','M','A','M','J','J','A','S','O','N','D',''][indexof([0,31,59,90,120,151,181,212,243,273,304,334,365], datum.value)]", "title": null}},
  "y": {"field": "l", "type": "quantitative", "scale": {"domain": [0, 55], "nice": false, "zero": false}, "axis": {"values": [0,5,10,15,20], "domain": false, "title": null, "minExtent": 98}},
  "y2": {"field": "h"},
  "stroke": {"datum": "Heating", "type": "nominal"}
 }},
{"data": {"name": "c2"}, "mark": {"type": "area", "fill": "#4190F2", "strokeWidth": 1.5, "interpolate": "linear"},
 "encoding": {"x": {"field": "d", "type": "quantitative"}, "y": {"field": "l", "type": "quantitative"}, "y2": {"field": "h"}, "stroke": {"datum": "Cooling", "type": "nominal"}}},
{"data": {"name": "v2"}, "mark": {"type": "area", "fill": "#FFCC22", "opacity": 0.68, "strokeWidth": 1, "interpolate": "step-after"},
 "encoding": {"x": {"field": "d", "type": "quantitative"}, "y": {"field": "l", "type": "quantitative"}, "y2": {"field": "h"}, "stroke": {"datum": "Vehicle charging", "type": "nominal"}}},
{"data": {"name": "g2"}, "mark": {"type": "area", "fill": "#A6A6A6", "strokeWidth": 0.8, "interpolate": "step-after"},
 "encoding": {"x": {"field": "d", "type": "quantitative"}, "y": {"field": "l", "type": "quantitative"}, "y2": {"field": "h"}, "stroke": {"datum": "Non-seasonal", "type": "nominal"}}},
{"data": {"values": [{}]}, "mark": {"type": "rule", "color": "#A6A6A6", "strokeWidth": 1.5},
 "encoding": {"x": {"datum": 0}, "y": {"datum": 0}, "y2": {"datum": 22}}},
{"data": {"values": [{}]}, "mark": {"type": "rect", "color": "#02649B"},
 "encoding": {"x": {"datum": 72.8}, "x2": {"datum": 234.3}, "y": {"datum": 64.9}, "y2": {"datum": 59.9}}},
{"data": {"values": [{}]}, "mark": {"type": "text", "color": "white", "font": "Roboto", "fontSize": 31, "baseline": "middle", "align": "center", "text": "Baseline (2050)"},
 "encoding": {"x": {"datum": 153.5}, "y": {"datum": 62.4}}}
]
},
{
"width": 596, "height": 575,
"layer": [
{"data": {"name": "h3"}, "mark": {"type": "area", "fill": "#D24A4A", "strokeWidth": 1.5, "interpolate": "linear"},
 "encoding": {
  "x": {"field": "d", "type": "quantitative", "scale": {"domain": [0, 365], "nice": false, "zero": false}, "axis": {"values": [0,31,59,90,120,151,181,212,243,273,304,334,365], "labelExpr": "['J','F','M','A','M','J','J','A','S','O','N','D',''][indexof([0,31,59,90,120,151,181,212,243,273,304,334,365], datum.value)]", "title": null}},
  "y": {"field": "l", "type": "quantitative", "scale": {"domain": [0, 55], "nice": false, "zero": false}, "axis": {"values": [0,10,20,30,40,50], "title": null}},
  "y2": {"field": "h"},
  "stroke": {"datum": "Heating", "type": "nominal"}
 }},
{"data": {"name": "c3"}, "mark": {"type": "area", "fill": "#4190F2", "strokeWidth": 1.5, "interpolate": "linear"},
 "encoding": {"x": {"field": "d", "type": "quantitative"}, "y": {"field": "l", "type": "quantitative"}, "y2": {"field": "h"}, "stroke": {"datum": "Cooling", "type": "nominal"}}},
{"data": {"name": "v3"}, "mark": {"type": "area", "fill": "#FFCC22", "opacity": 0.68, "strokeWidth": 1, "interpolate": "step-after"},
 "encoding": {"x": {"field": "d", "type": "quantitative"}, "y": {"field": "l", "type": "quantitative"}, "y2": {"field": "h"}, "stroke": {"datum": "Vehicle charging", "type": "nominal"}}},
{"data": {"name": "g3"}, "mark": {"type": "area", "fill": "#A6A6A6", "strokeWidth": 0.8, "interpolate": "step-after"},
 "encoding": {"x": {"field": "d", "type": "quantitative"}, "y": {"field": "l", "type": "quantitative"}, "y2": {"field": "h"}, "stroke": {"datum": "Non-seasonal", "type": "nominal"}}},
{"data": {"values": [{}]}, "mark": {"type": "rect", "color": "#229690"},
 "encoding": {"x": {"datum": 76.9}, "x2": {"datum": 299.8}, "y": {"datum": 64.9}, "y2": {"datum": 59.9}}},
{"data": {"values": [{}]}, "mark": {"type": "text", "color": "white", "font": "Roboto", "fontSize": 31, "baseline": "middle", "align": "center", "text": "Transformation (2050)"},
 "encoding": {"x": {"datum": 188.4}, "y": {"datum": 62.4}}},
{"data": {"values": [{}]}, "mark": {"type": "rule", "color": "#1A1A1A", "strokeWidth": 2},
 "encoding": {"x": {"datum": 111.3}, "y": {"datum": 38.2}, "x2": {"datum": 67.7}, "y2": {"datum": 48.6}}},
{"data": {"values": [{}]}, "mark": {"type": "point", "shape": "triangle-up", "filled": true, "color": "#1A1A1A", "opacity": 1, "size": 140, "angle": 327},
 "encoding": {"x": {"datum": 67.7}, "y": {"datum": 48.6}}},
{"data": {"values": [{}]}, "mark": {"type": "text", "align": "left", "baseline": "alphabetic", "font": "Lato", "fontSize": 26, "lineHeight": 32, "color": "#1F2A44", "text": ["All-electric ASHPs can", "significantly increase", "peak heating demand"]},
 "encoding": {"x": {"datum": 114.5}, "y": {"datum": 34.9}}}
]
}
]
}
